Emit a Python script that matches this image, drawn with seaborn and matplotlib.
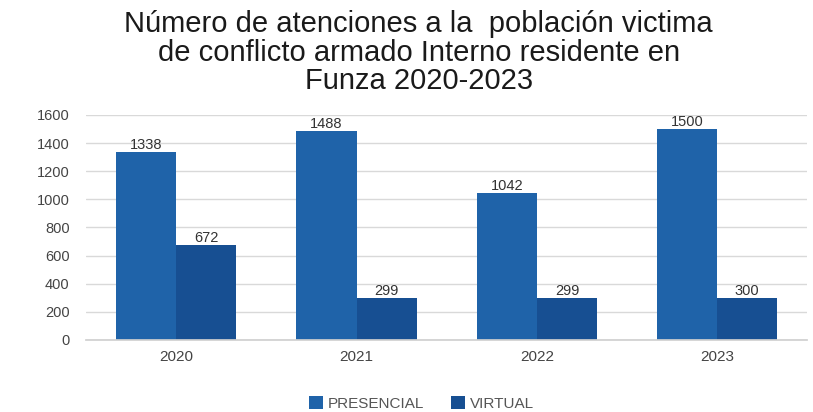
import matplotlib
matplotlib.use("Agg")
import matplotlib.pyplot as plt
import seaborn as sns
import pandas as pd

years = ["2020", "2021", "2022", "2023"]
presencial = [1338, 1488, 1042, 1500]
virtual = [672, 299, 299, 300]
series_names = ["PRESENCIAL", "VIRTUAL"]
yticks = [0, 200, 400, 600, 800, 1000, 1200, 1400, 1600]

df = pd.DataFrame({
    "year": years * 2,
    "value": presencial + virtual,
    "serie": [series_names[0]] * len(years) + [series_names[1]] * len(years),
})

sns.set_theme(style="white")
plt.rcParams["font.family"] = ["Liberation Sans", "DejaVu Sans"]

fig = plt.figure(figsize=(8.13, 4.12), dpi=100)
fig.patch.set_facecolor("white")
ax = fig.add_axes([0.106, 0.175, 0.887, 0.546])

palette = {"PRESENCIAL": "#1f63a9", "VIRTUAL": "#174f92"}
sns.barplot(data=df, x="year", y="value", hue="serie", palette=palette,
            width=0.667, saturation=1, ax=ax, legend=True, linewidth=0)

for c in ax.containers:
    ax.bar_label(c, fmt="%d", fontsize=10.5, color="#333333", padding=0)

ax.set_ylim(0, 1600)
ax.set_yticks(yticks)
ax.yaxis.grid(True, color="#d9d9d9", linewidth=1)
ax.set_axisbelow(True)
for s in ["top", "right", "left"]:
    ax.spines[s].set_visible(False)
ax.spines["bottom"].set_color("#d0d0d0")
ax.set_xlabel("")
ax.set_ylabel("")
ax.tick_params(axis="y", labelsize=10.5, colors="#444444", pad=12, length=0)
ax.tick_params(axis="x", labelsize=11, colors="#444444", pad=7, length=0)

ax.legend(loc="upper center", bbox_to_anchor=(0.465, -0.19), ncol=2, frameon=False,
          fontsize=11, handlelength=0.9, handleheight=0.9, handletextpad=0.3,
          columnspacing=1.8, labelcolor="#555555")

fig.text(0.515, 0.975, "Número de atenciones a la  población victima\nde conflicto armado Interno residente en\nFunza 2020-2023",
         ha="center", va="top", fontsize=21, color="#1a1a1a", linespacing=1.02)

fig.savefig("out.png", dpi=100)
